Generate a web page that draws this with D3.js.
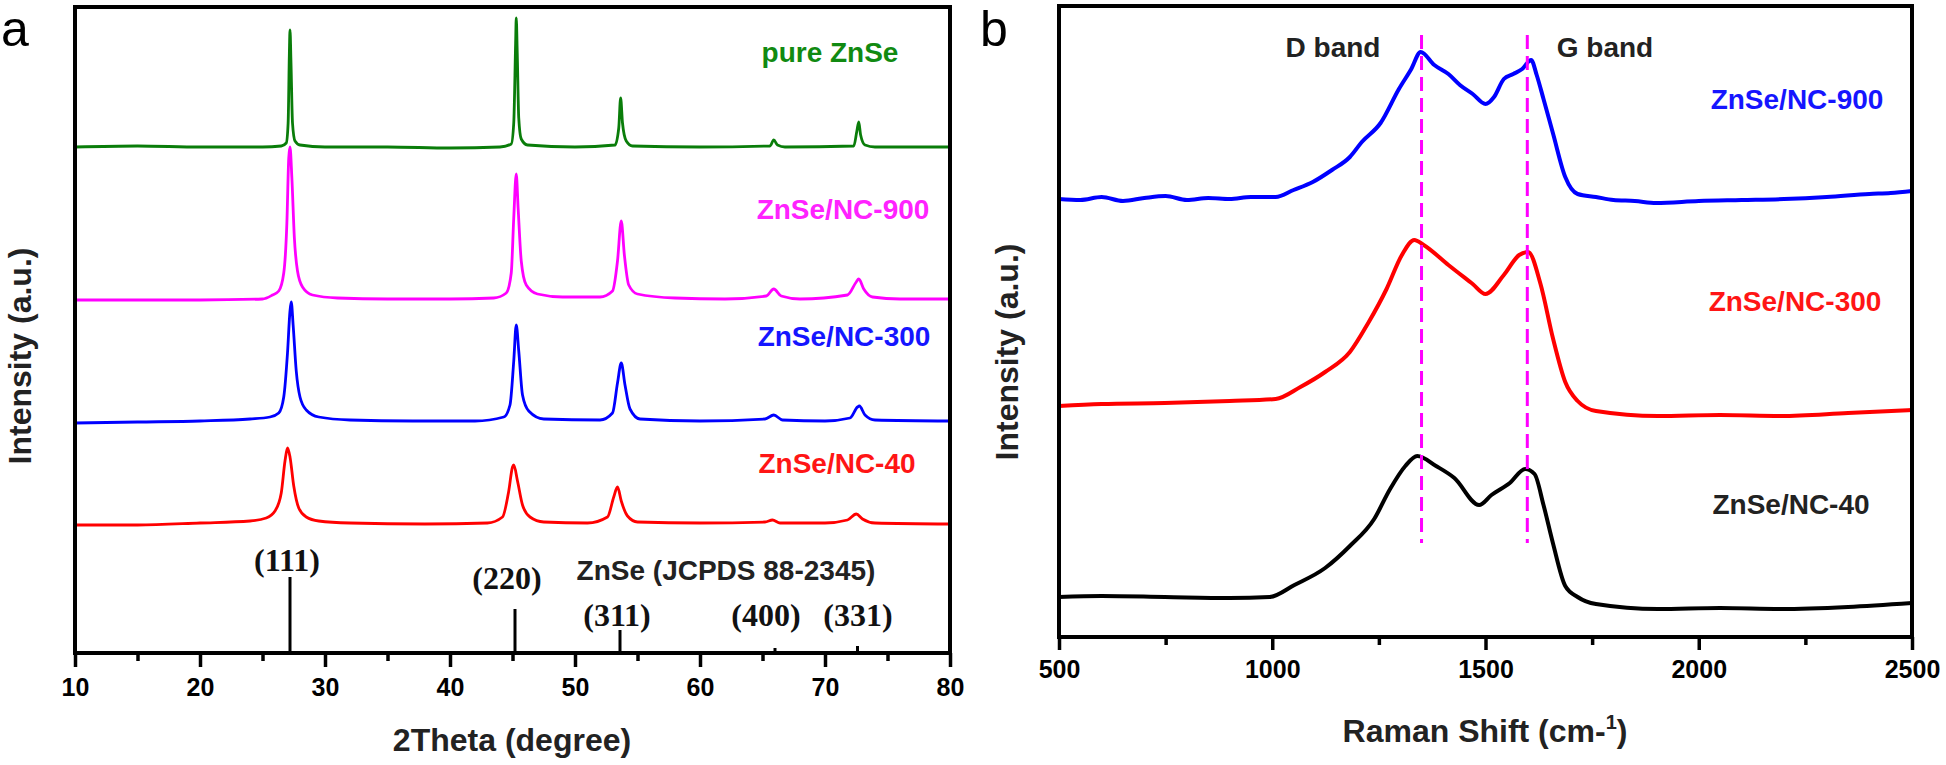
<!DOCTYPE html>
<html>
<head>
<meta charset="utf-8">
<script src="https://cdn.jsdelivr.net/npm/d3@7"></script>
<style>
  html, body { margin: 0; padding: 0; background: #fff; }
  svg { display: block; }
</style>
</head>
<body>
<svg id="chart" width="1946" height="765" font-family="'Liberation Sans', Arial, sans-serif"></svg>
<script>
// ---------------- DATA (panel a: XRD) ----------------
const xrdTicks = [10, 20, 30, 40, 50, 60, 70, 80];
const xrdMinorTicks = [15, 25, 35, 45, 55, 65, 75];
const xrdNames = ["pure ZnSe", "ZnSe/NC-900", "ZnSe/NC-300", "ZnSe/NC-40"];
// [2theta, intensity (a.u., stacked with offsets)]
const xrdPure = [[10,506],[15,507],[20,506],[25,506],[26.5,507],[26.9,510],[27.05,530],[27.15,600],[27.2,623],[27.28,590],[27.4,530],[27.6,512],[28,508],[30,506],[35,506],[40,505],[44,506],[44.9,509],[45.1,530],[45.25,610],[45.3,635],[45.38,600],[45.5,535],[45.7,514],[46.2,508],[50,506],[53.2,508],[53.5,525],[53.65,555],[53.8,530],[54.1,512],[54.6,507],[60,506],[65.6,507],[65.9,513],[66.2,508],[66.8,506],[72.3,507],[72.55,522],[72.7,531],[72.85,518],[73.2,508],[74,506],[80,506]];
const xrdNC900 = [[10,353],[20,353],[25,354],[25.8,358],[26.3,362],[26.7,380],[26.95,430],[27.1,495],[27.2,506],[27.35,475],[27.55,415],[27.8,382],[28.2,366],[29,358],[31,355],[35,354],[40,354],[43.5,355],[44.5,360],[44.9,380],[45.1,435],[45.3,479],[45.45,445],[45.7,392],[46.1,368],[47,359],[49,356],[52,356],[53,362],[53.4,392],[53.7,432],[53.95,398],[54.3,368],[55,359],[58,355],[62,354],[65.3,357],[65.9,364],[66.5,357],[68,354],[71.8,358],[72.5,371],[72.7,374],[73.1,364],[73.8,356],[76,354],[80,354]];
const xrdNC300 = [[10,230],[15,231],[20,232],[24,234],[25.6,236],[26.3,240],[26.7,256],[27.0,300],[27.2,342],[27.3,351],[27.45,328],[27.7,282],[28.0,256],[28.5,243],[29.5,236],[32,233],[37,232],[42,232],[44.3,236],[44.8,248],[45.1,292],[45.3,328],[45.5,302],[45.8,258],[46.3,242],[47.5,234],[52,233],[53.0,240],[53.4,270],[53.7,290],[54.0,268],[54.4,244],[55.2,234],[60,232],[65.2,234],[65.9,238],[66.6,233],[70,232],[72.0,235],[72.6,246],[72.75,247],[73.2,238],[74,233],[80,232]];
const xrdNC40 = [[10,128],[15,128],[20,130],[24,132],[25.3,135],[26.0,142],[26.5,160],[26.8,192],[27.0,205],[27.2,196],[27.5,167],[27.9,145],[28.5,136],[29.5,132],[32,130],[38,129],[43,130],[44.2,136],[44.7,162],[45.0,186],[45.1,188],[45.4,172],[45.8,148],[46.4,136],[47.5,131],[51,130],[52.6,136],[53.1,156],[53.4,166],[53.7,152],[54.2,137],[55,131],[60,130],[65.2,131],[65.8,133],[66.4,130],[70,130],[71.8,133],[72.5,139],[73,134],[74,130],[80,129]];
// JCPDS 88-2345 reference sticks
const refPos = [27.2, 45.2, 53.6, 66.0, 72.6];
const refInt = [76, 44, 23, 5, 7];
const refHkl = ["(111)", "(220)", "(311)", "(400)", "(331)"];

// ---------------- DATA (panel b: Raman) ----------------
const ramanTicks = [500, 1000, 1500, 2000, 2500];
const ramanMinorTicks = [750, 1250, 1750, 2250];
const ramanNames = ["ZnSe/NC-900", "ZnSe/NC-300", "ZnSe/NC-40"];
const ramanNC900 = [[500,438],[550,437],[600,440],[650,436],[700,439],[750,441],[800,437],[850,439],[900,438],[950,440],[1008,440],[1050,447],[1095,455],[1140,467],[1182,480],[1210,495],[1254,514],[1297,548],[1326,568],[1348,585],[1380,572],[1413,563],[1440,552],[1470,543],[1500,533],[1520,540],[1543,558],[1565,563],[1586,568],[1607,577],[1620,562],[1636,538],[1658,504],[1687,460],[1716,443],[1759,440],[1800,437],[1850,436],[1900,434],[2000,436],[2100,437],[2200,438],[2300,440],[2400,443],[2450,444],[2500,446]];
const ramanNC300 = [[500,231],[600,233],[748,234],[900,236],[1008,238],[1066,250],[1124,265],[1182,285],[1225,314],[1268,348],[1304,382],[1333,397],[1355,392],[1413,372],[1470,353],[1500,343],[1543,362],[1579,382],[1600,385],[1629,353],[1658,299],[1687,255],[1716,236],[1759,226],[1904,221],[2050,222],[2193,221],[2350,224],[2500,227]];
const ramanNC40 = [[500,40],[600,41],[748,40],[900,39],[994,40],[1052,52],[1124,69],[1182,91],[1239,118],[1275,147],[1312,171],[1340,181],[1384,171],[1427,159],[1485,132],[1514,142],[1557,154],[1593,168],[1615,163],[1636,132],[1658,94],[1687,51],[1716,40],[1759,33],[1904,28],[2050,29],[2193,28],[2350,30],[2500,34]];
const bandPos = [1350, 1598];
const bandNames = ["D band", "G band"];

// ---------------- DRAWING ----------------
const SANS = "'Liberation Sans', Arial, sans-serif";
const SERIF = "'Liberation Serif', 'Times New Roman', serif";
const svg = d3.select("#chart");
const A = {left: 75, right: 950, top: 7, bottom: 653};
const B = {left: 1059, right: 1912, top: 6, bottom: 637};

const xA = d3.scaleLinear().domain([10, 80]).range([A.left, A.right]);
const yA = d3.scaleLinear().domain([0, 646]).range([A.bottom, A.top]);
const xB = d3.scaleLinear().domain([500, 2500]).range([B.left, B.right]);
const yB = d3.scaleLinear().domain([0, 631]).range([B.bottom, B.top]);

function drawAxis(P, x, majors, minors, pad, majLen) {
  const gMaj = svg.append("g").attr("transform", `translate(0,${P.bottom})`)
    .call(d3.axisBottom(x).tickValues(majors).tickFormat(d3.format("d")).tickSize(majLen).tickPadding(pad));
  gMaj.attr("font-family", SANS);
  gMaj.select(".domain").remove();
  gMaj.selectAll(".tick line").attr("stroke", "#000").attr("stroke-width", 3.5);
  gMaj.selectAll(".tick text").attr("fill", "#000").attr("font-size", 25).attr("font-weight", "bold");
  const gMin = svg.append("g").attr("transform", `translate(0,${P.bottom})`)
    .call(d3.axisBottom(x).tickValues(minors).tickFormat("").tickSize(8));
  gMin.select(".domain").remove();
  gMin.selectAll(".tick line").attr("stroke", "#000").attr("stroke-width", 3.5);
  svg.append("rect").attr("x", P.left).attr("y", P.top)
    .attr("width", P.right - P.left).attr("height", P.bottom - P.top)
    .attr("fill", "none").attr("stroke", "#000").attr("stroke-width", 4);
}

// Panel a
const lineA = d3.line().x(d => xA(d[0])).y(d => yA(d[1])).curve(d3.curveMonotoneX);
const xrdSeries = [xrdPure, xrdNC900, xrdNC300, xrdNC40];
const xrdColors = ["#0a7d0a", "#ff00ff", "#0000ff", "#ff0000"];
xrdSeries.forEach((s, i) => {
  svg.append("path").datum(s).attr("d", lineA).attr("fill", "none")
    .attr("stroke", xrdColors[i]).attr("stroke-width", 2.8).attr("stroke-linejoin", "round");
});
// sticks
svg.append("g").selectAll("line").data(refPos).join("line")
  .attr("x1", d => xA(d)).attr("x2", d => xA(d))
  .attr("y1", yA(0)).attr("y2", (d, i) => yA(refInt[i]))
  .attr("stroke", "#000").attr("stroke-width", 3);
drawAxis(A, xA, xrdTicks, xrdMinorTicks, 11, 14);

const xrdLabelPos = [[830, 62], [843, 219], [844, 346], [837, 473]];
const xrdLabelColors = ["#118a11", "#ff22ff", "#1515ff", "#ff1515"];
xrdNames.forEach((n, i) => {
  svg.append("text").attr("x", xrdLabelPos[i][0]).attr("y", xrdLabelPos[i][1])
    .attr("text-anchor", "middle").attr("font-size", 28).attr("font-weight", "bold")
    .attr("fill", xrdLabelColors[i]).text(n);
});
const hklPos = [[287, 571], [507, 589], [617, 626], [766, 626], [858, 626]];
refHkl.forEach((h, i) => {
  svg.append("text").attr("x", hklPos[i][0]).attr("y", hklPos[i][1])
    .attr("text-anchor", "middle").attr("font-size", 32).attr("font-weight", "bold")
    .attr("font-family", SERIF)
    .attr("fill", "#111").text(h);
});
svg.append("text").attr("x", 726).attr("y", 580).attr("text-anchor", "middle")
  .attr("font-size", 28).attr("font-weight", "bold").attr("fill", "#222").text("ZnSe (JCPDS 88-2345)");

svg.append("text").attr("x", 512).attr("y", 751).attr("text-anchor", "middle")
  .attr("font-size", 32).attr("font-weight", "bold").attr("fill", "#222").text("2Theta (degree)");
svg.append("text").attr("transform", "translate(31,356) rotate(-90)").attr("text-anchor", "middle")
  .attr("font-size", 32).attr("font-weight", "bold").attr("fill", "#222").text("Intensity (a.u.)");
svg.append("text").attr("x", 1).attr("y", 46).attr("font-size", 50).attr("fill", "#000").text("a");

// Panel b
const lineB = d3.line().x(d => xB(d[0])).y(d => yB(d[1])).curve(d3.curveMonotoneX);
const ramanSeries = [ramanNC900, ramanNC300, ramanNC40];
const ramanColors = ["#0000ff", "#ff0000", "#000000"];
ramanSeries.forEach((s, i) => {
  svg.append("path").datum(s).attr("d", lineB).attr("fill", "none")
    .attr("stroke", ramanColors[i]).attr("stroke-width", 4).attr("stroke-linejoin", "round");
});
svg.append("g").selectAll("line").data(bandPos).join("line")
  .attr("x1", d => xB(d)).attr("x2", d => xB(d))
  .attr("y1", yB(602)).attr("y2", yB(94))
  .attr("stroke", "#ff00ff").attr("stroke-width", 3).attr("stroke-dasharray", "14,7");
drawAxis(B, xB, ramanTicks, ramanMinorTicks, 10, 13);

const bandLabelX = [1333, 1605];
bandNames.forEach((n, i) => {
  svg.append("text").attr("x", bandLabelX[i]).attr("y", 57).attr("text-anchor", "middle")
    .attr("font-size", 28).attr("font-weight", "bold").attr("fill", "#222").text(n);
});
const ramanLabelPos = [[1797, 109], [1795, 311], [1791, 514]];
const ramanLabelColors = ["#1515ff", "#ff1515", "#222"];
ramanNames.forEach((n, i) => {
  svg.append("text").attr("x", ramanLabelPos[i][0]).attr("y", ramanLabelPos[i][1])
    .attr("text-anchor", "middle").attr("font-size", 28).attr("font-weight", "bold")
    .attr("fill", ramanLabelColors[i]).text(n);
});
const rt = svg.append("text").attr("x", 1485).attr("y", 742).attr("text-anchor", "middle")
  .attr("font-size", 32).attr("font-weight", "bold").attr("fill", "#222");
rt.append("tspan").text("Raman Shift (cm-");
rt.append("tspan").attr("font-size", 20).attr("dy", -13).text("1");
rt.append("tspan").attr("dy", 13).text(")");
svg.append("text").attr("transform", "translate(1018,352) rotate(-90)").attr("text-anchor", "middle")
  .attr("font-size", 32).attr("font-weight", "bold").attr("fill", "#222").text("Intensity (a.u.)");
svg.append("text").attr("x", 980).attr("y", 46).attr("font-size", 50).attr("fill", "#000").text("b");
</script>
</body>
</html>
